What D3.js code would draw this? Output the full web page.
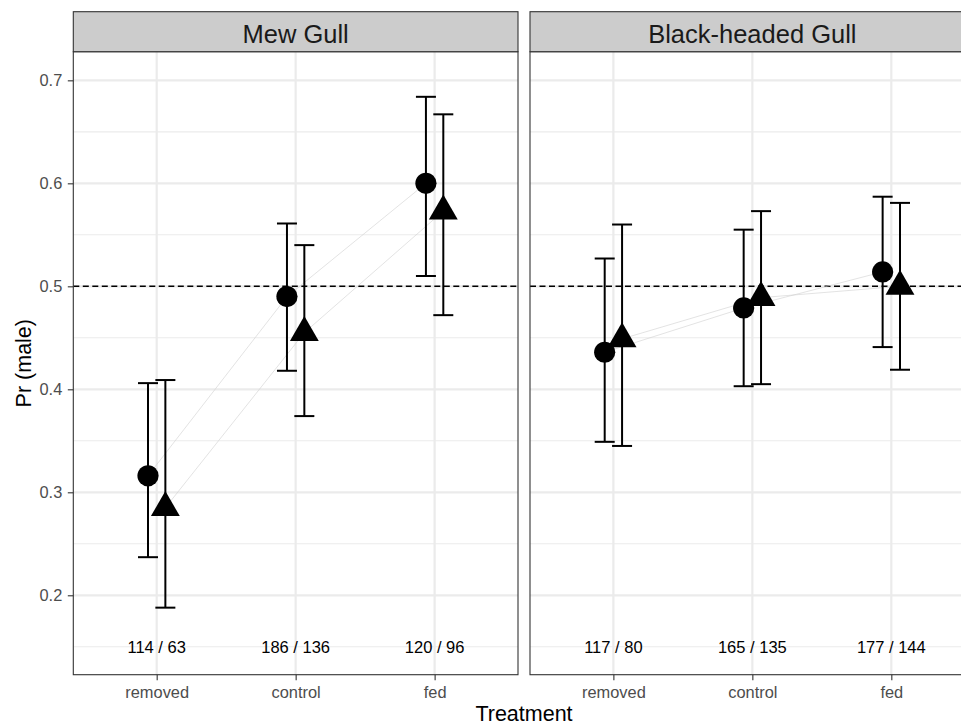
<!DOCTYPE html>
<html>
<head>
<meta charset="utf-8">
<script src="https://cdn.jsdelivr.net/npm/d3@7"></script>
<style>
  body { margin: 0; background: #fff; }
  svg { display: block; font-family: "Liberation Sans", Arial, sans-serif; }
</style>
</head>
<body>
<div id="chart"></div>
<script>

// facets and categories
var species = ["Mew Gull", "Black-headed Gull"]
var treatments = ["removed", "control", "fed"]

// circle series (per species, per treatment)
var circleEst   = [[0.316, 0.490, 0.600], [0.436, 0.479, 0.514]]
var circleLower = [[0.237, 0.418, 0.510], [0.349, 0.403, 0.441]]
var circleUpper = [[0.406, 0.561, 0.684], [0.527, 0.555, 0.587]]

// triangle series
var triEst   = [[0.285, 0.455, 0.573], [0.449, 0.489, 0.500]]
var triLower = [[0.188, 0.374, 0.472], [0.345, 0.405, 0.419]]
var triUpper = [[0.409, 0.540, 0.667], [0.560, 0.573, 0.581]]

// sample size labels
var nLabels = [["114 / 63", "186 / 136", "120 / 96"], ["117 / 80", "165 / 135", "177 / 144"]]

var yTicks = [0.2, 0.3, 0.4, 0.5, 0.6, 0.7]
var yMinor = [0.15, 0.25, 0.35, 0.45, 0.55, 0.65]

var width = 961, height = 724

var panelTop = 51.7, panelBottom = 674.7, stripTop = 11.7
var panelW = 444.7
var panelLefts = [73.3, 530]

var svg = d3.select("#chart").append("svg")
    .attr("width", width)
    .attr("height", height)

var y = d3.scaleLinear()
    .domain([0.1229, 0.7278])
    .range([panelBottom, panelTop])

var dodge = 0.0625  // in step units

species.forEach(function(sp, si) {

  var left = panelLefts[si]
  var x = d3.scalePoint()
      .domain(treatments)
      .range([left, left + panelW])
      .padding(0.6)
  var off = x.step() * dodge

  var g = svg.append("g")

  // grid
  g.append("g").selectAll("line.minor")
    .data(yMinor)
    .join("line")
      .attr("x1", left).attr("x2", left + panelW)
      .attr("y1", d => y(d)).attr("y2", d => y(d))
      .attr("stroke", "#ebebeb")
      .attr("stroke-width", 1.1)

  g.append("g").selectAll("line.major")
    .data(yTicks)
    .join("line")
      .attr("x1", left).attr("x2", left + panelW)
      .attr("y1", d => y(d)).attr("y2", d => y(d))
      .attr("stroke", "#ebebeb")
      .attr("stroke-width", 2.2)

  g.append("g").selectAll("line")
    .data(treatments)
    .join("line")
      .attr("x1", d => x(d)).attr("x2", d => x(d))
      .attr("y1", panelTop).attr("y2", panelBottom)
      .attr("stroke", "#ebebeb")
      .attr("stroke-width", 2.2)

  // reference line
  g.append("line")
    .attr("x1", left).attr("x2", left + panelW)
    .attr("y1", y(0.5)).attr("y2", y(0.5))
    .attr("stroke", "#000")
    .attr("stroke-width", 1.4)
    .attr("stroke-dasharray", "6,3.5")

  // connecting lines
  var line = d3.line()
  var cPts = treatments.map((t, i) => [x(t) - off, y(circleEst[si][i])])
  var tPts = treatments.map((t, i) => [x(t) + off, y(triEst[si][i])])
  ;[cPts, tPts].forEach(function(pts) {
    g.append("path")
      .attr("d", line(pts))
      .attr("fill", "none")
      .attr("stroke", "#d0d0d0")
      .attr("stroke-width", 0.6)
  })

  // error bars
  var bars = []
  treatments.forEach(function(t, i) {
    bars.push({x: x(t) - off, lo: circleLower[si][i], hi: circleUpper[si][i]})
    bars.push({x: x(t) + off, lo: triLower[si][i], hi: triUpper[si][i]})
  })
  var eb = g.append("g")
      .attr("stroke", "#000")
      .attr("stroke-width", 2)
    .selectAll("g")
    .data(bars)
    .join("g")
  eb.append("line")
    .attr("x1", d => d.x).attr("x2", d => d.x)
    .attr("y1", d => y(d.lo)).attr("y2", d => y(d.hi))
  eb.append("line")
    .attr("x1", d => d.x - 10).attr("x2", d => d.x + 10)
    .attr("y1", d => y(d.lo)).attr("y2", d => y(d.lo))
  eb.append("line")
    .attr("x1", d => d.x - 10).attr("x2", d => d.x + 10)
    .attr("y1", d => y(d.hi)).attr("y2", d => y(d.hi))

  // points
  g.append("g").selectAll("circle")
    .data(cPts)
    .join("circle")
      .attr("cx", d => d[0]).attr("cy", d => d[1])
      .attr("r", 10.6)
      .attr("fill", "#000")

  g.append("g").selectAll("path")
    .data(tPts)
    .join("path")
      .attr("transform", d => "translate(" + d[0] + "," + d[1] + ")")
      .attr("d", d3.symbol(d3.symbolTriangle, 361))
      .attr("fill", "#000")

  // n labels
  g.append("g").selectAll("text")
    .data(treatments)
    .join("text")
      .attr("x", d => x(d))
      .attr("y", y(0.15))
      .attr("dy", "0.4em")
      .attr("text-anchor", "middle")
      .attr("font-size", 16.5)
      .attr("fill", "#000")
      .text((d, i) => nLabels[si][i])

  // panel border
  g.append("rect")
    .attr("x", left).attr("y", panelTop)
    .attr("width", panelW).attr("height", panelBottom - panelTop)
    .attr("fill", "none")
    .attr("stroke", "#333")
    .attr("stroke-width", 1.1)

  // strip
  g.append("rect")
    .attr("x", left).attr("y", stripTop)
    .attr("width", panelW).attr("height", panelTop - stripTop)
    .attr("fill", "#cccccc")
    .attr("stroke", "#333")
    .attr("stroke-width", 1.1)
  g.append("text")
    .attr("x", left + panelW / 2)
    .attr("y", 43)
    .attr("text-anchor", "middle")
    .attr("font-size", 25.5)
    .attr("fill", "#1a1a1a")
    .text(sp)

  // x axis
  var xAxis = svg.append("g")
      .attr("transform", "translate(0," + panelBottom + ")")
      .call(d3.axisBottom(x).tickSize(5.5))
  xAxis.select(".domain").remove()
  xAxis.selectAll("line").attr("stroke", "#333").attr("stroke-width", 1.1)
  xAxis.selectAll("text")
      .attr("y", 23.3)
      .attr("dy", null)
      .attr("font-size", 16.4)
      .attr("fill", "#4d4d4d")
      .attr("font-family", "Liberation Sans, Arial, sans-serif")
})

// y axis
var yAxis = svg.append("g")
    .attr("transform", "translate(" + panelLefts[0] + ",0)")
    .call(d3.axisLeft(y).tickValues(yTicks).tickFormat(d3.format(".1f")).tickSize(5.5).tickPadding(5.5))
yAxis.select(".domain").remove()
yAxis.selectAll("line").attr("stroke", "#333").attr("stroke-width", 1.1)
yAxis.selectAll("text")
    .attr("font-size", 16.4)
    .attr("fill", "#4d4d4d")
    .attr("font-family", "Liberation Sans, Arial, sans-serif")

// axis titles
svg.append("text")
  .attr("x", (panelLefts[0] + panelLefts[1] + panelW) / 2)
  .attr("y", 720.5)
  .attr("text-anchor", "middle")
  .attr("font-size", 21.5)
  .attr("fill", "#000")
  .text("Treatment")

svg.append("text")
  .attr("transform", "translate(30.5," + ((panelTop + panelBottom) / 2) + ") rotate(-90)")
  .attr("text-anchor", "middle")
  .attr("font-size", 21.5)
  .attr("fill", "#000")
  .text("Pr (male)")

</script>
</body>
</html>
